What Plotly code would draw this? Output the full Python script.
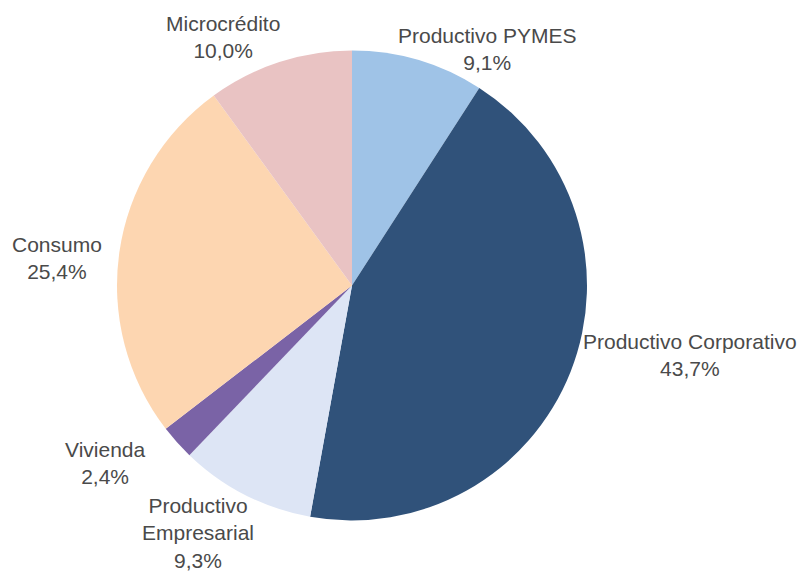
import plotly.graph_objects as go

# Cartera por segmento de crédito
segmentos = ["Productivo PYMES", "Productivo Corporativo", "Productivo Empresarial",
             "Vivienda", "Consumo", "Microcrédito"]
participacion = [9.1, 43.7, 9.3, 2.4, 25.4, 10.0]
colores = ["#9fc3e7", "#30527a", "#dde5f5", "#7a63a6", "#fdd6b1", "#e9c3c3"]

# Texto de cada etiqueta (nombre partido en líneas) y su posición en píxeles
etiquetas = ["Productivo PYMES", "Productivo Corporativo", "Productivo<br>Empresarial",
             "Vivienda", "Consumo", "Microcrédito"]
pos_x = [487, 690, 198, 105, 57, 223]
pos_y = [49, 355, 533, 463, 258, 37]

W, H = 802, 571
cx, cy, r = 352, 285.5, 235

fig = go.Figure(go.Pie(
    labels=segmentos,
    values=participacion,
    sort=False,
    direction="clockwise",
    rotation=0,
    marker=dict(colors=colores, line=dict(width=0)),
    textinfo="none",
    hoverinfo="label+percent",
    domain=dict(x=[(cx - r) / W, (cx + r) / W], y=[(H - cy - r) / H, (H - cy + r) / H]),
))

for lab, val, x, y in zip(etiquetas, participacion, pos_x, pos_y):
    texto = f"{lab}<br>{val:.1f}%".replace(".", ",")
    fig.add_annotation(
        x=x / W, y=1 - y / H, xref="paper", yref="paper",
        text=texto, showarrow=False, xanchor="center", yanchor="middle",
        align="center",
        font=dict(family="Liberation Sans, Arial, sans-serif", size=21, color="#4a4a4a"),
    )

fig.update_layout(
    width=W, height=H,
    margin=dict(l=0, r=0, t=0, b=0),
    showlegend=False,
    paper_bgcolor="white",
    plot_bgcolor="white",
)

fig.write_html("out.html")
